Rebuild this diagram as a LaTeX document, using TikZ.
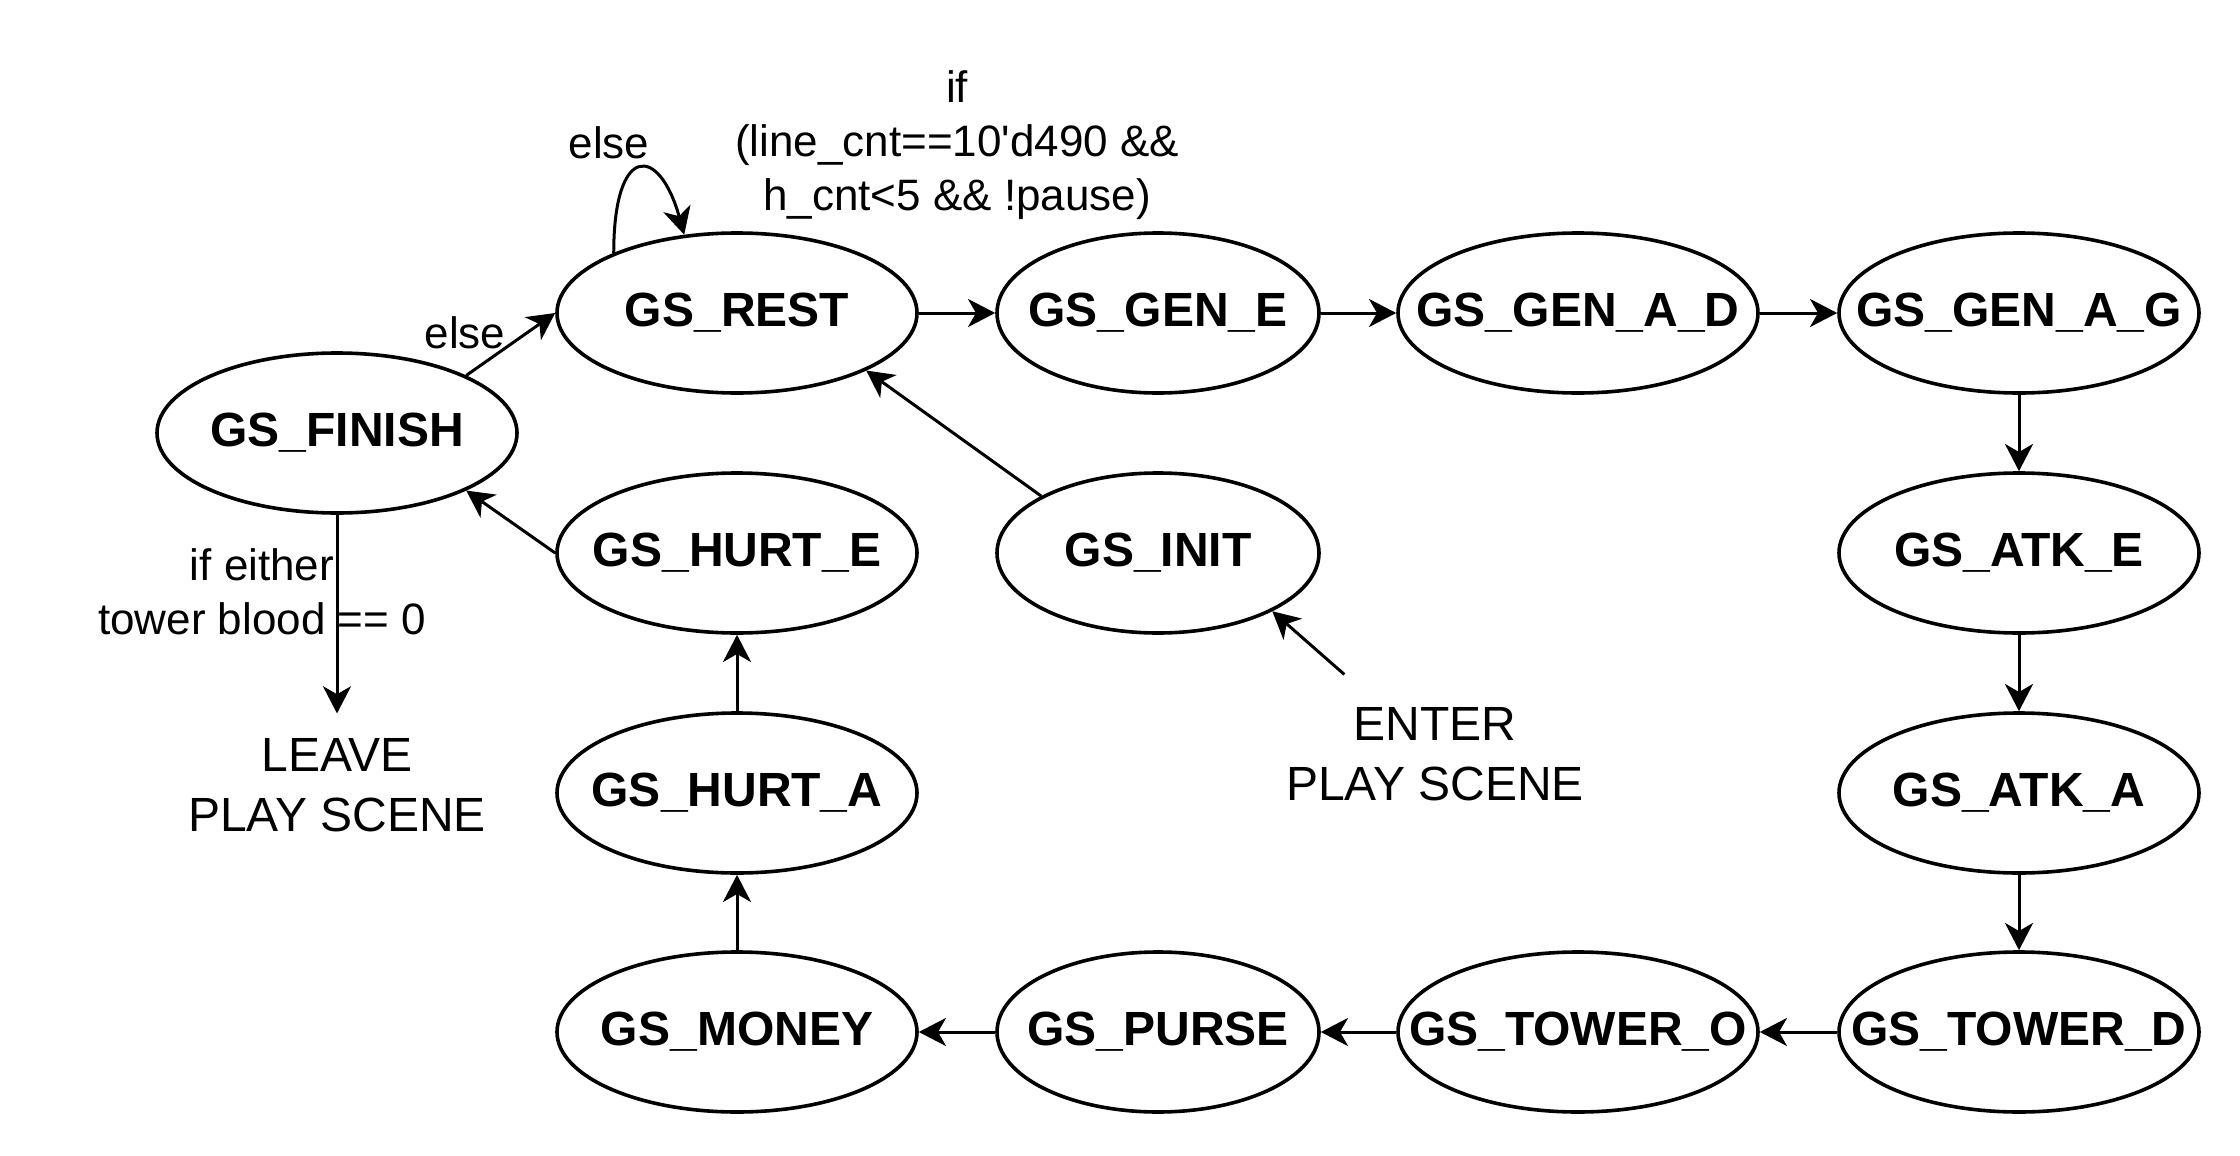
\documentclass[tikz,border=0pt]{standalone}
\usepackage{fontspec}
\setmainfont{Liberation Sans}
\usepackage{tikz}
\usetikzlibrary{ shapes.geometric }
\usetikzlibrary{arrows.meta}

\begin{document}
\begin{tikzpicture} [
    x=0.25pt, y=-0.25pt,
    state/.style = {ellipse, draw, line width=0.9pt, minimum width=90pt, minimum height=40pt, inner xsep=-12pt, font=\bfseries\fontsize{12}{14}\selectfont},
    slim/.style = {minimum width=80.5pt},
    cond/.style = {align=center, inner sep=0pt, font=\fontsize{11}{13.5}\selectfont},
    scene/.style = {align=center, font=\fontsize{12}{15}\selectfont},
    trans/.style = {line width=0.75pt, -{Stealth[length=6.8pt, width=7pt, inset=2pt]}}
]
    \useasboundingbox (0,0) rectangle (2240,1156);

    \node [state] (finish) at (337,433) {GS\_FINISH};
    \node [state] (rest) at (737,313) {GS\_REST};
    \node [state, slim] (genE) at (1158,313) {GS\_GEN\_E};
    \node [state] (genAD) at (1578,313) {GS\_GEN\_A\_D};
    \node [state] (genAG) at (2019,313) {GS\_GEN\_A\_G};
    \node [state] (hurtE) at (737,553) {GS\_HURT\_E};
    \node [state, slim] (init) at (1158,553) {GS\_INIT};
    \node [state] (atkE) at (2019,553) {GS\_ATK\_E};
    \node [state] (hurtA) at (737,793) {GS\_HURT\_A};
    \node [state] (atkA) at (2019,793) {GS\_ATK\_A};
    \node [state] (money) at (737,1032) {GS\_MONEY};
    \node [state, slim] (purse) at (1158,1032) {GS\_PURSE};
    \node [state] (towerO) at (1578,1032) {GS\_TOWER\_O};
    \node [state] (towerD) at (2019,1032) {GS\_TOWER\_D};

    \node [scene, inner sep=6pt] (leave) at (337,785) {LEAVE\\PLAY SCENE};
    \node [scene, inner sep=8pt] (enter) at (1435,754) {ENTER\\PLAY SCENE};

    \node [cond] (go) at (957,145) {if\\(line\_cnt==10\textquotesingle d490 \&\&\\h\_cnt<5 \&\& !pause)};
    \node [cond] (stay) at (609,143) {else};
    \node [cond] (back) at (465,333) {else};
    \node [cond] (dead) at (262,592) {if either\\tower blood == 0};

    \draw [trans] (rest) -- (genE);
    \draw [trans] (genE) -- (genAD);
    \draw [trans] (genAD) -- (genAG);
    \draw [trans] (genAG) -- (atkE);
    \draw [trans] (atkE) -- (atkA);
    \draw [trans] (atkA) -- (towerD);
    \draw [trans] (towerD) -- (towerO);
    \draw [trans] (towerO) -- (purse);
    \draw [trans] (purse) -- (money);
    \draw [trans] (money) -- (hurtA);
    \draw [trans] (hurtA) -- (hurtE);
    \draw [trans] (hurtE.west) -- (finish.-24);
    \draw [trans] (finish.24) -- (rest.west);
    \draw [trans] (rest.154) .. controls +(0,-110) and +(-25,-90) .. (rest.124);
    \draw [trans] (init.154) -- (rest.-24);
    \draw [trans] (enter) -- (init.-27);
    \draw [trans] (finish) -- (leave);
\end{tikzpicture}
\end{document}
